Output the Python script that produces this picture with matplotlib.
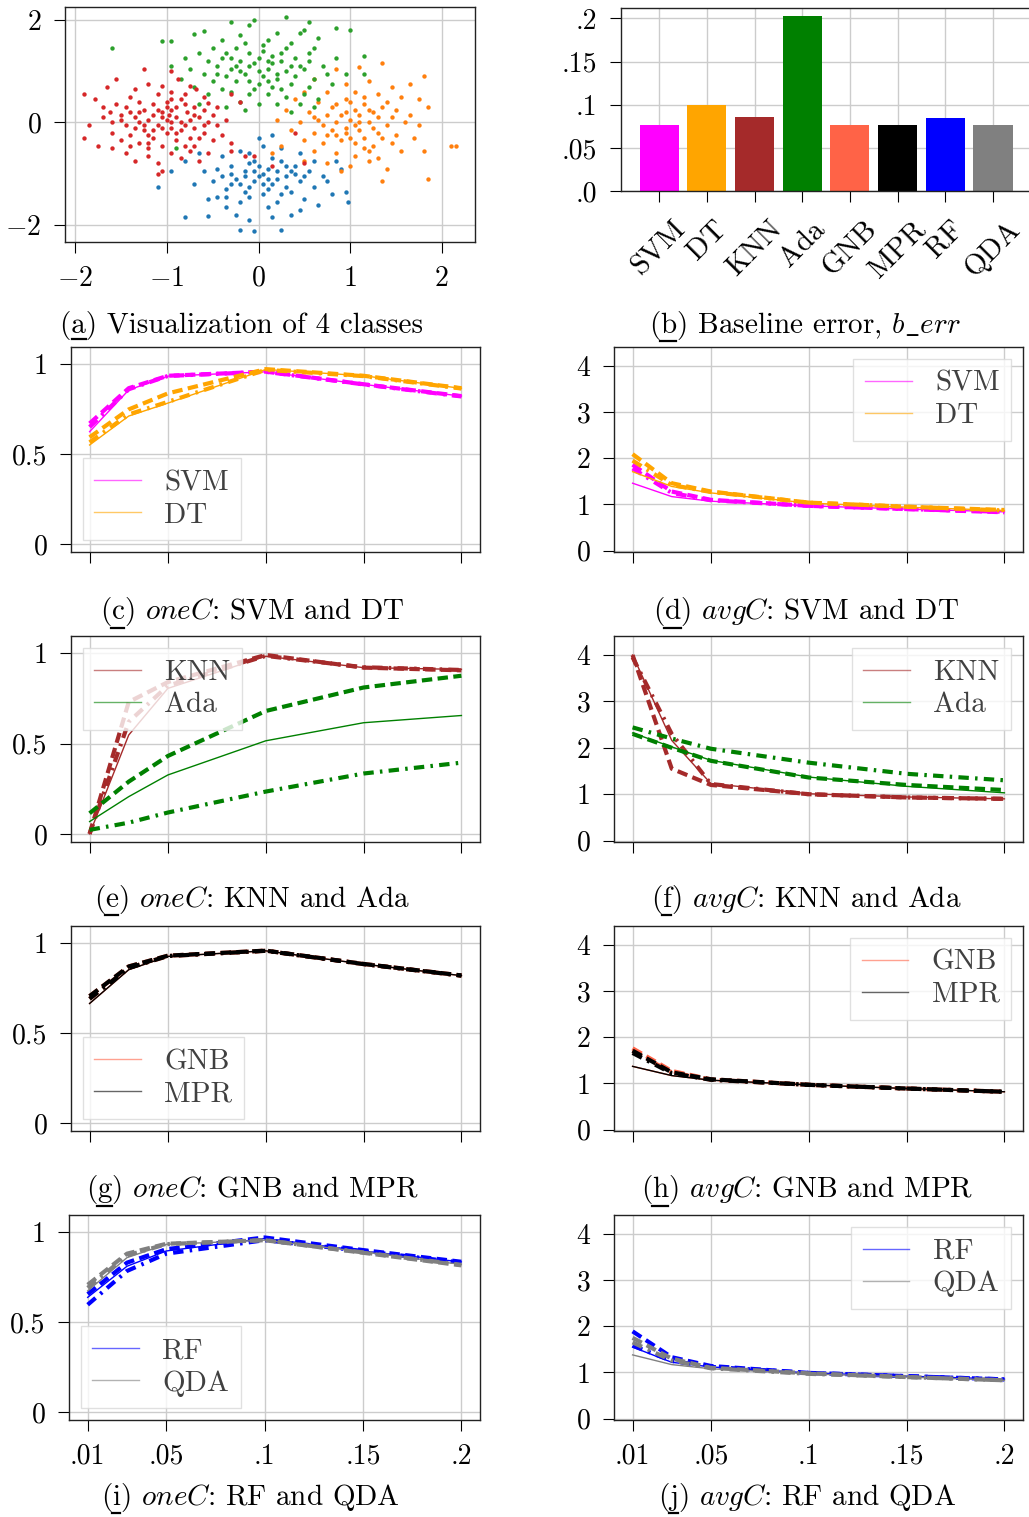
import numpy as np
import matplotlib
matplotlib.use("Agg")
import matplotlib.pyplot as plt
from matplotlib.lines import Line2D

plt.rcParams['font.family'] = 'cmr10'
plt.rcParams['mathtext.fontset'] = 'cm'
plt.rcParams['axes.unicode_minus'] = False

# ---------------------------------------------------------------------------
# data
# ---------------------------------------------------------------------------
red_pts = [(-1.25, 1.05), (-0.95, 1.0), (-0.88, 0.85), (-1.55, 0.85), (-1.65, 0.7), (-1.35, 0.65),
           (-1.2, 0.75), (-1.05, 0.72), (-0.95, 0.6), (-0.75, 0.72), (-0.68, 0.66), (-0.8, 0.55),
           (-1.4, 0.5), (-1.9, 0.55), (-1.78, 0.45), (-1.1, 0.55), (-0.6, 0.5), (-1.55, 0.35),
           (-1.45, 0.3), (-1.3, 0.4), (-1.25, 0.25), (-1.15, 0.35), (-1.0, 0.4), (-0.9, 0.3),
           (-0.85, 0.45), (-0.7, 0.3), (-0.6, 0.25), (-0.55, 0.38), (-1.7, 0.3), (-1.62, 0.2),
           (-1.05, 0.2), (-0.78, 0.2), (-0.95, 0.25), (-0.5, 0.15), (-1.85, -0.05), (-1.7, 0.1),
           (-1.6, 0.0), (-1.5, 0.05), (-1.45, -0.05), (-1.35, 0.1), (-1.3, 0.0), (-1.2, 0.05),
           (-1.1, -0.05), (-1.05, 0.1), (-0.95, 0.0), (-0.9, 0.1), (-0.8, -0.05), (-0.75, 0.05),
           (-0.65, 0.1), (-0.55, 0.0), (-0.45, -0.05), (-1.15, 0.15), (-0.98, 0.15), (-0.35, 0.05),
           (-1.9, -0.3), (-1.75, -0.45), (-1.6, -0.2), (-1.5, -0.35), (-1.4, -0.25), (-1.3, -0.4),
           (-1.25, -0.15), (-1.15, -0.3), (-1.05, -0.45), (-1.0, -0.2), (-0.9, -0.35), (-0.85, -0.15),
           (-0.75, -0.3), (-0.7, -0.45), (-0.6, -0.2), (-0.5, -0.35), (-0.4, -0.25), (-0.3, -0.4),
           (-1.6, -0.5), (-1.2, -0.5), (-1.45, -0.6), (-1.35, -0.75), (-1.2, -0.65), (-1.1, -0.8),
           (-1.05, -0.95), (-0.95, -0.6), (-0.85, -0.7), (-0.75, -0.55), (-0.65, -0.75), (-0.55, -0.6),
           (-0.3, -0.55), (-0.15, -0.65), (-1.1, -1.0), (0.15, -0.85), (0.5, -0.8), (-0.3, 0.55),
           (-0.2, 0.4), (0.4, -0.2), (-0.05, -0.65), (-1.35, -0.1), (-1.2, -0.25), (-0.95, -0.1),
           (-0.7, -0.1), (-1.4, 0.2), (-0.85, 0.0), (-1.0, 0.05), (-1.25, -0.05), (-1.1, 0.25),
           (-0.65, -0.3), (-0.8, 0.35), (-1.5, 0.15), (-1.05, -0.1), (-0.9, -0.2), (-1.15, -0.15),
           (-0.7, 0.15), (-1.3, 0.2), (-0.6, -0.05), (-0.95, 0.45), (-1.2, -0.4), (-0.8, -0.45),
           (-1.0, 0.3), (-0.45, 0.3), (-1.4, -0.45)]
green_pts = [(0.3, 2.05), (-0.05, 2.0), (-0.3, 1.95), (0.55, 1.95), (-0.1, 1.9), (0.85, 1.85), (1.0, 1.8),
             (-0.6, 1.78), (-0.7, 1.72), (0.45, 1.75), (-0.2, 1.7), (0.2, 1.75), (0.65, 1.65),
             (-0.95, 1.58), (-1.05, 1.58), (0.1, 1.6), (-0.4, 1.6), (0.35, 1.55), (-1.6, 1.45), (0.5, 1.8),
             (-0.5, 1.45), (-0.25, 1.45), (0.05, 1.5), (0.3, 1.45), (0.55, 1.35), (-0.65, 1.35),
             (-0.35, 1.35), (-0.1, 1.35), (0.15, 1.3), (0.4, 1.25), (0.6, 1.45), (0.85, 1.25), (1.15, 1.3),
             (-0.8, 1.25), (-0.55, 1.2), (-0.2, 1.2), (0.0, 1.25), (0.25, 1.2), (-0.95, 1.1), (-0.75, 1.05),
             (0.7, 1.1), (0.95, 0.95), (-0.45, 1.1), (-0.3, 1.05), (-0.1, 1.1), (0.1, 1.05), (0.3, 1.0),
             (0.5, 1.05), (-0.6, 0.95), (-0.35, 0.9), (-0.15, 0.95), (0.05, 0.9), (0.2, 0.85), (0.4, 0.9),
             (0.6, 0.85), (-0.85, 0.85), (-0.5, 0.8), (-0.25, 0.8), (0.0, 0.75), (0.15, 0.7), (0.35, 0.75),
             (0.55, 0.7), (0.8, 0.75), (-0.7, 0.7), (-0.4, 0.65), (1.15, 0.95), (0.75, 0.95), (-0.55, 0.55),
             (-0.3, 0.6), (-0.1, 0.55), (0.1, 0.55), (0.3, 0.5), (0.5, 0.55), (-0.2, 0.4), (0.0, 0.35),
             (0.2, 0.35), (0.45, 0.35), (-0.35, 0.3), (-0.15, 0.25), (0.35, 0.2), (0.65, 0.45),
             (-0.65, 0.35), (0.6, 0.3), (-0.9, -0.5), (-0.05, 1.15), (0.15, 1.15), (-0.2, 1.0),
             (0.25, 1.35), (-0.4, 1.25), (0.05, 1.4), (0.45, 1.1), (-0.15, 1.55), (0.2, 0.95), (-0.05, 0.65),
             (0.1, 1.2), (-0.25, 1.1), (0.35, 1.1), (0.0, 1.0), (-0.45, 0.95), (0.25, 0.65), (-0.1, 0.8),
             (0.55, 1.2), (-0.3, 1.25), (0.1, 0.8)]
orange_pts = [(0.85, 1.05), (1.1, 1.08), (1.35, 1.15), (1.8, 0.9), (0.6, 0.85), (0.95, 0.75), (1.2, 0.8),
              (1.45, 0.7), (1.65, 0.75), (0.5, 0.6), (0.75, 0.6), (1.05, 0.6), (1.3, 0.55), (1.55, 0.5),
              (1.75, 0.45), (0.4, 0.45), (0.65, 0.4), (0.85, 0.35), (1.0, 0.4), (1.15, 0.35), (1.35, 0.3),
              (1.5, 0.25), (1.85, 0.3), (0.3, 0.25), (0.55, 0.2), (0.75, 0.15), (0.95, 0.2), (1.1, 0.15),
              (1.25, 0.2), (1.45, 0.1), (1.65, 0.15), (0.2, 0.05), (0.45, 0.0), (0.65, 0.05), (0.85, 0.0),
              (1.0, 0.05), (1.2, 0.0), (1.4, -0.05), (1.6, 0.0), (1.75, -0.05), (0.35, -0.15), (0.6, -0.2),
              (0.8, -0.15), (0.95, -0.2), (1.1, -0.15), (1.3, -0.2), (1.5, -0.25), (1.7, -0.3), (0.5, -0.35),
              (0.7, -0.4), (0.9, -0.35), (1.05, -0.4), (1.25, -0.45), (1.45, -0.4), (1.8, -0.55),
              (0.6, -0.55), (0.85, -0.6), (1.05, -0.65), (1.3, -0.7), (1.55, -0.55), (0.75, -0.8),
              (1.0, -0.85), (1.2, -0.75), (1.4, -0.9), (0.5, -0.75), (2.1, -0.45), (2.15, -0.45),
              (1.85, -1.1), (1.35, -1.15), (1.15, -0.5), (0.9, -0.95), (1.05, -0.05), (0.9, 0.15),
              (1.2, 0.25), (1.35, -0.3), (0.75, -0.25), (1.0, -0.3), (1.15, 0.5), (0.95, 0.45),
              (1.25, -0.1), (0.8, 0.3), (0.25, -0.45), (0.15, -0.6), (1.1, 0.0), (0.95, -0.1),
              (1.3, 0.1), (0.7, -0.05), (1.15, -0.3), (0.85, -0.25), (1.4, 0.4), (0.6, 0.1),
              (1.05, 0.25), (1.2, -0.55)]
blue_pts = [(-1.1, -1.25), (-0.8, -1.85), (-0.55, -1.82), (-0.7, -1.2), (-0.6, -0.95), (-0.5, -1.15),
            (-0.45, -1.45), (-0.35, -1.3), (-0.3, -0.85), (-0.25, -1.1), (-0.2, -1.55), (-0.15, -0.95),
            (-0.1, -1.25), (-0.05, -0.75), (0.0, -1.05), (0.05, -1.4), (0.1, -0.9), (0.15, -1.2),
            (0.2, -1.55), (0.25, -0.75), (0.3, -1.05), (0.35, -1.35), (0.4, -0.85), (0.45, -1.15),
            (0.5, -1.5), (0.55, -0.95), (0.6, -1.25), (0.7, -1.05), (0.8, -1.4), (0.85, -0.75),
            (0.95, -1.35), (0.98, -1.55), (-0.65, -0.6), (-0.4, -0.65), (-0.2, -0.55), (0.05, -0.45),
            (0.25, -0.5), (0.45, -0.6), (-0.25, -1.8), (-0.1, -1.9), (-0.2, -2.1), (-0.05, -2.12),
            (0.25, -2.1), (0.15, -1.85), (0.45, -1.7), (0.65, -1.6), (0.75, -1.15), (-0.55, -1.5),
            (-0.8, -0.75), (-0.35, -1.65), (0.35, -1.8), (0.1, -1.65), (-0.15, -1.35), (-0.05, -1.15),
            (0.1, -1.1), (0.2, -0.95), (-0.3, -1.0), (0.35, -0.95), (0.3, -1.25), (-0.45, -0.9),
            (0.6, -0.75), (0.9, -0.9), (-0.95, -0.95), (0.0, -0.3), (0.15, -0.25), (-0.1, -0.6),
            (-0.05, -0.95), (0.05, -1.2), (-0.2, -1.2), (0.25, -1.4), (-0.4, -1.05), (0.5, -1.05),
            (-0.1, -1.45), (0.15, -0.7), (0.0, -0.85), (-0.15, -1.05), (0.2, -1.1), (0.1, -1.3),
            (-0.3, -1.2), (0.4, -1.0), (-0.1, -0.8), (0.05, -1.0), (0.3, -0.85), (-0.35, -1.45)]

classifiers = ['SVM', 'DT', 'KNN', 'Ada', 'GNB', 'MPR', 'RF', 'QDA']
clf_colors = ['magenta', 'orange', 'brown', 'green', 'tomato', 'black', 'blue', 'gray']
b_err = [0.0767, 0.100, 0.086, 0.2023, 0.0767, 0.0767, 0.085, 0.0767]

c_vals = [0.01, 0.03, 0.05, 0.1, 0.15, 0.2]

# oneC: [solid, dashed, dash-dot] per classifier
one_c = {
    'SVM': [[0.624, 0.856, 0.933, 0.957, 0.887, 0.822], [0.67, 0.866, 0.935, 0.958, 0.888, 0.822], [0.65, 0.86, 0.934, 0.957, 0.887, 0.82]],
    'DT':  [[0.55, 0.711, 0.783, 0.97, 0.935, 0.865], [0.593, 0.748, 0.837, 0.972, 0.935, 0.866], [0.565, 0.72, 0.79, 0.968, 0.933, 0.864]],
    'KNN': [[0.0, 0.547, 0.805, 0.983, 0.92, 0.91], [0.0, 0.73, 0.84, 0.99, 0.92, 0.905], [0.0, 0.62, 0.82, 0.985, 0.922, 0.907]],
    'Ada': [[0.068, 0.206, 0.326, 0.515, 0.615, 0.655], [0.114, 0.289, 0.431, 0.68, 0.81, 0.875], [0.022, 0.062, 0.118, 0.234, 0.334, 0.394]],
    'GNB': [[0.664, 0.852, 0.926, 0.957, 0.883, 0.819], [0.705, 0.87, 0.93, 0.958, 0.884, 0.82], [0.69, 0.862, 0.928, 0.957, 0.883, 0.819]],
    'MPR': [[0.664, 0.852, 0.926, 0.957, 0.883, 0.819], [0.705, 0.87, 0.93, 0.958, 0.884, 0.82], [0.69, 0.862, 0.928, 0.957, 0.883, 0.819]],
    'RF':  [[0.637, 0.81, 0.895, 0.965, 0.895, 0.834], [0.655, 0.83, 0.905, 0.97, 0.9, 0.835], [0.596, 0.784, 0.88, 0.955, 0.895, 0.83]],
    'QDA': [[0.673, 0.858, 0.932, 0.955, 0.89, 0.82], [0.707, 0.88, 0.935, 0.955, 0.885, 0.815], [0.69, 0.87, 0.933, 0.955, 0.887, 0.818]],
}
# avgC
avg_c = {
    'SVM': [[1.46, 1.17, 1.07, 0.97, 0.90, 0.84], [1.86, 1.28, 1.10, 0.97, 0.90, 0.83], [1.78, 1.25, 1.09, 0.97, 0.90, 0.84]],
    'DT':  [[1.71, 1.39, 1.25, 1.03, 0.94, 0.87], [2.09, 1.46, 1.28, 1.04, 0.95, 0.88], [1.95, 1.42, 1.27, 1.04, 0.95, 0.87]],
    'KNN': [[4.0, 2.16, 1.23, 1.01, 0.94, 0.90], [4.0, 1.55, 1.20, 1.00, 0.93, 0.90], [3.95, 2.3, 1.22, 1.00, 0.93, 0.90]],
    'Ada': [[2.32, 2.02, 1.73, 1.37, 1.17, 1.03], [2.30, 2.0, 1.72, 1.36, 1.20, 1.09], [2.44, 2.2, 1.98, 1.68, 1.44, 1.30]],
    'GNB': [[1.37, 1.17, 1.07, 0.97, 0.89, 0.82], [1.76, 1.27, 1.09, 0.97, 0.89, 0.82], [1.70, 1.24, 1.08, 0.97, 0.89, 0.82]],
    'MPR': [[1.37, 1.17, 1.07, 0.97, 0.89, 0.82], [1.71, 1.24, 1.09, 0.97, 0.89, 0.82], [1.66, 1.22, 1.08, 0.97, 0.89, 0.82]],
    'RF':  [[1.55, 1.22, 1.12, 0.99, 0.92, 0.855], [1.89, 1.33, 1.14, 0.99, 0.92, 0.85], [1.58, 1.25, 1.12, 0.99, 0.92, 0.85]],
    'QDA': [[1.38, 1.17, 1.08, 0.97, 0.90, 0.83], [1.75, 1.30, 1.10, 0.98, 0.90, 0.83], [1.65, 1.26, 1.09, 0.97, 0.90, 0.83]],
}

pairs = [('SVM', 'DT'), ('KNN', 'Ada'), ('GNB', 'MPR'), ('RF', 'QDA')]
one_locs = ['lower left', 'upper left', 'lower left', 'lower left']

# ---------------------------------------------------------------------------
# figure
# ---------------------------------------------------------------------------
W, H = 1029, 1517
fig = plt.figure(figsize=(W / 100, H / 100), dpi=100)


def px_axes(l, t, r, b):
    return fig.add_axes([l / W, 1 - b / H, (r - l) / W, (b - t) / H])


def style(ax):
    ax.grid(True, color='#cccccc', lw=1.0)
    ax.set_axisbelow(True)
    for s in ax.spines.values():
        s.set_linewidth(1.0)
        s.set_color('#222222')
    ax.tick_params(direction='out', length=8, width=0.8, pad=9, labelsize=20)


col = {c: k for c, k in zip(classifiers, clf_colors)}
line_kw = [dict(ls='-', lw=1.0),
           dict(lw=3.0, dashes=(2.5, 1.3)),
           dict(lw=3.0, dashes=(2.5, 1.5, 0.6, 1.5))]

# (a) scatter
ax = px_axes(65, 7, 475, 242)
style(ax)
for pts, c in [(blue_pts, '#1f77b4'), (orange_pts, '#ff7f0e'), (green_pts, '#2ca02c'), (red_pts, '#d62728')]:
    p = np.array(pts)
    ax.scatter(p[:, 0], p[:, 1], s=10, color=c, linewidths=0)
ax.set_xlim(-2.11, 2.36)
ax.set_ylim(-2.33, 2.25)
ax.set_xticks([-2, -1, 0, 1, 2])
ax.set_xticklabels([r'$-2$', r'$-1$', '0', '1', '2'])
ax.set_yticks([-2, 0, 2])
ax.set_yticklabels([r'$-2$', '0', '2'])

# (b) baseline error bars
ax = px_axes(621, 8, 1029, 191)
style(ax)
ax.bar(range(len(classifiers)), b_err, width=0.82, color=clf_colors)
ax.set_xlim(-0.8, 7.755)
ax.set_ylim(0, 0.212)
ax.set_yticks([0, 0.05, 0.1, 0.15, 0.2])
ax.set_yticklabels(['.0', '.05', '.1', '.15', '.2'])
ax.set_xticks(range(len(classifiers)))
ax.set_xticklabels(classifiers, rotation=45, fontsize=21)
ax.tick_params(axis='x', pad=10)
ax.spines['right'].set_visible(False)

# line panels
rows = [(347, 552), (636, 842), (926, 1131), (1215, 1420)]
for i, (pair, loc) in enumerate(zip(pairs, one_locs)):
    top, bot = rows[i]
    for j, (data, ylim, yt, ytl) in enumerate([
            (one_c, (-0.045, 1.095), [0, 0.5, 1], ['0', '0.5', '1']),
            (avg_c, (-0.03, 4.41), [0, 1, 2, 3, 4], ['0', '1', '2', '3', '4'])]):
        if j == 0:
            ax = px_axes(71 if i < 3 else 69, top, 480, bot)
        else:
            ax = px_axes(614, top, 1023, bot)
        style(ax)
        for name in pair:
            for k in range(3):
                ax.plot(c_vals, data[name][k], color=col[name], **line_kw[k])
        ax.set_xlim(0.0005, 0.2095)
        ax.set_ylim(*ylim)
        ax.set_yticks(yt)
        ax.set_yticklabels(ytl)
        ax.set_xticks([0.01, 0.05, 0.1, 0.15, 0.2])
        if i == 3:
            ax.set_xticklabels(['.01', '.05', '.1', '.15', '.2'])
        else:
            ax.set_xticklabels([])
        handles = [Line2D([], [], color=col[n], lw=1.0, alpha=0.6) for n in pair]
        ax.legend(handles, list(pair), loc=loc if j == 0 else 'upper right',
                  fontsize=21, handlelength=1.6, handletextpad=0.8,
                  labelcolor='0.25', framealpha=0.8, fancybox=False,
                  edgecolor='0.85', borderaxespad=0.4, labelspacing=0.2)

# captions
captions = [
    (242, 325, '(a) Visualization of 4 classes'),
    (805, 325, r'(b) Baseline error, $b\_err$'),
    (252, 612, r'(c) $oneC$: SVM and DT'),
    (806, 612, r'(d) $avgC$: SVM and DT'),
    (252, 900, r'(e) $oneC$: KNN and Ada'),
    (806, 900, r'(f) $avgC$: KNN and Ada'),
    (252, 1190, r'(g) $oneC$: GNB and MPR'),
    (807, 1190, r'(h) $avgC$: GNB and MPR'),
    (250, 1497, r'(i) $oneC$: RF and QDA'),
    (807, 1497, r'(j) $avgC$: RF and QDA'),
]
cap_size = 21
cap_texts = [fig.text(x / W, 1 - y / H, s, ha='center', va='center', fontsize=cap_size)
             for x, y, s in captions]

# underline the sub-figure letter, as in the LaTeX subcaption
fig.canvas.draw()
renderer = fig.canvas.get_renderer()


def text_width(s):
    t = fig.text(0, 0, s, fontsize=cap_size)
    w = t.get_window_extent(renderer).width
    t.remove()
    return w


for t in cap_texts:
    bb = t.get_window_extent(renderer)
    s = t.get_text()
    x0 = bb.x0 + text_width('(')
    x1 = bb.x0 + text_width(s[:2])
    y = bb.y0 + 1
    fig.add_artist(Line2D([x0 / W, x1 / W], [y / H, y / H], transform=fig.transFigure,
                          color='black', lw=1.6))

fig.savefig('out.png', dpi=100)
